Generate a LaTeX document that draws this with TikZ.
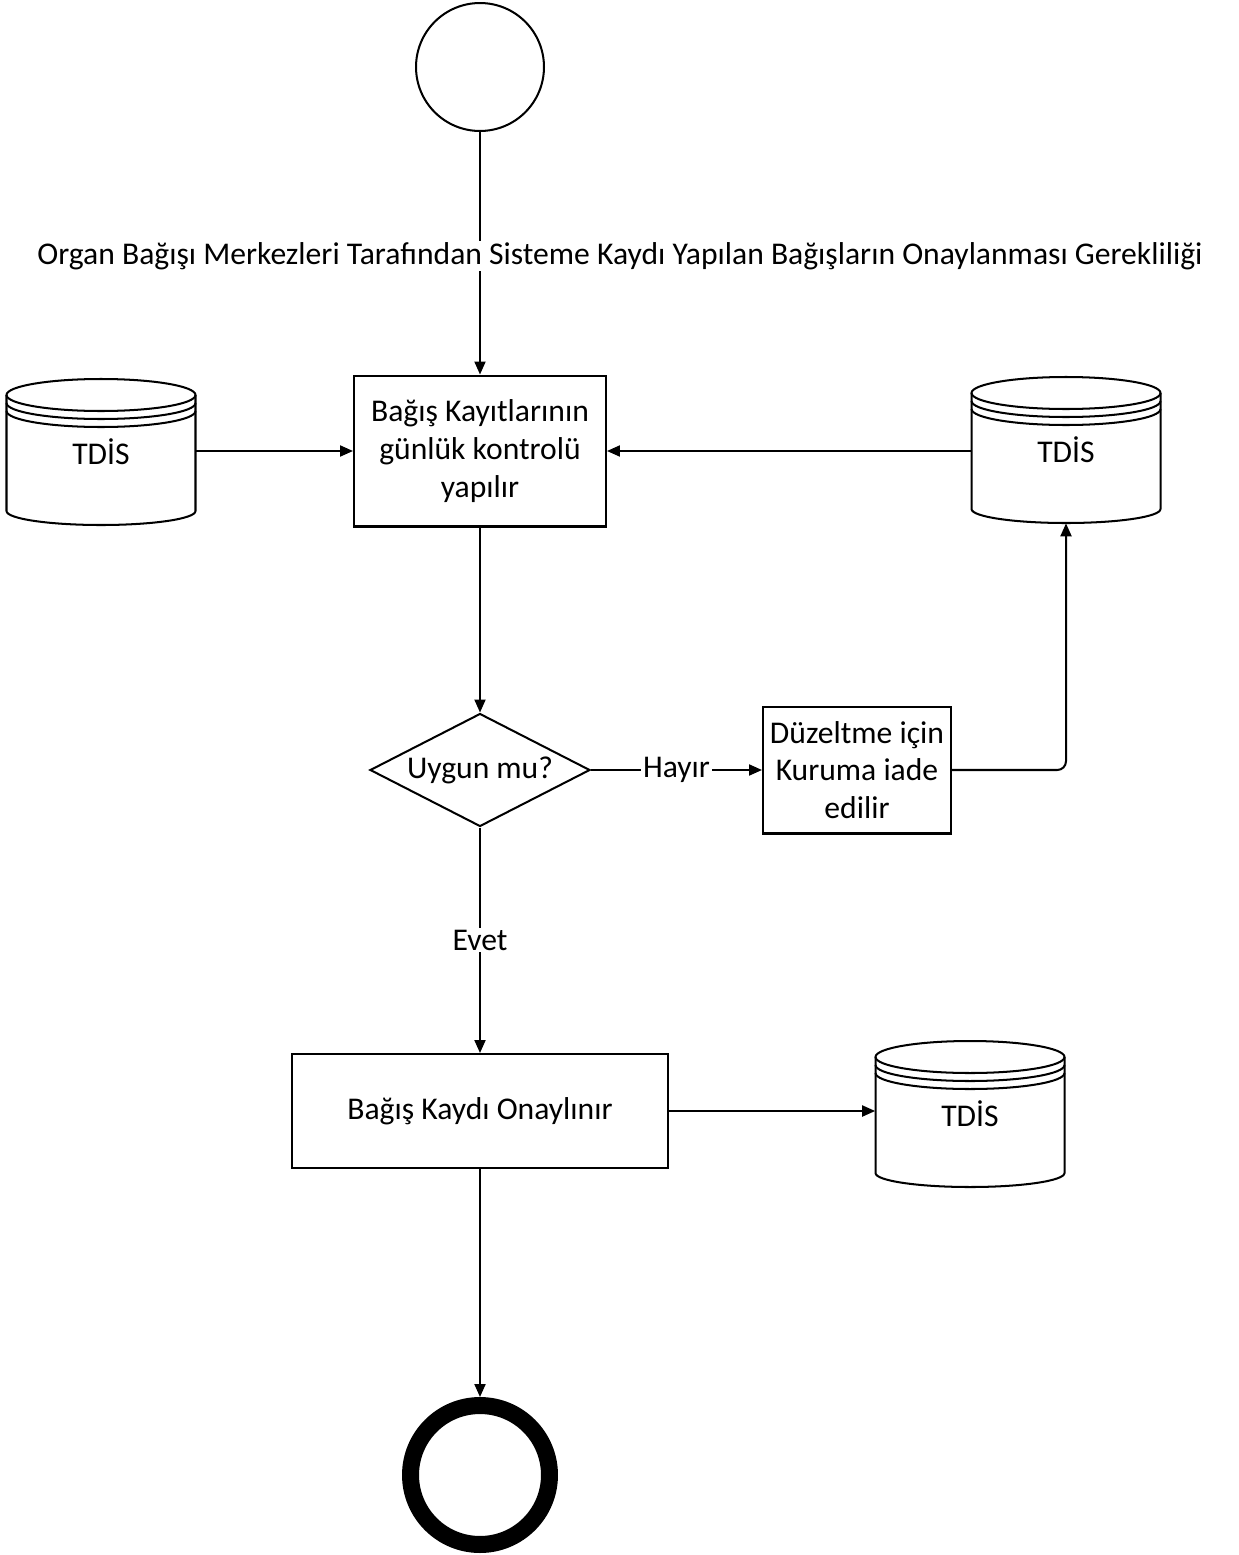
\documentclass[tikz,border=0pt]{standalone}
\usepackage{fontspec}
\setmainfont{Carlito}
\usetikzlibrary{positioning,arrows.meta,shapes.geometric,calc}
\newcommand\diafont{\fontsize{18}{21.5}\selectfont}
\tikzset{
  line/.style={draw=black, line width=1.15pt},
  flow/.style={line, -{Triangle[length=0.26cm,width=0.22cm]}},
  task/.style={rectangle, line, align=center, font=\diafont, inner sep=2pt},
  decision/.style={diamond, line, aspect=1.95, inner sep=0pt, font=\diafont,
                   minimum width=4.4cm, minimum height=2.26cm},
  dbnode/.style={rectangle, minimum width=3.78cm, minimum height=2.92cm, font=\diafont},
  edgelabel/.style={fill=white, inner sep=1pt, font=\diafont},
  startev/.style={circle, line, minimum size=2.56cm, inner sep=0pt},
  endev/.style={circle, draw=black, line width=0.34cm, minimum size=2.78cm, inner sep=0pt}
}
% cylinder with stacked rims: name, x, y
\newcommand\tdisdb[3]{%
  \node[dbnode, text depth=-6pt] (#1) at (#2,#3) {TDİS};
  \draw[line] (#2,{#3+57}) ellipse[x radius=94.5, y radius=16];
  \draw[line] ({#2-94.5},{#3+57}) -- ({#2-94.5},{#3-59})
    arc[start angle=180, end angle=360, x radius=94.5, y radius=14] -- ({#2+94.5},{#3+57});
  \draw[line] ({#2-94.5},{#3+49}) arc[start angle=180, end angle=360, x radius=94.5, y radius=16];
  \draw[line] ({#2-94.5},{#3+41}) arc[start angle=180, end angle=360, x radius=94.5, y radius=16];
}
\begin{document}
\begin{tikzpicture}[x=0.02cm,y=0.02cm]
\useasboundingbox (0,0) rectangle (1239,-1555);
% events
\node[startev] (start) at (480,-67) {};
\node[endev] (end) at (480,-1475) {};
% tasks
\node[task, minimum width=5.04cm, minimum height=3.02cm] (check) at (480,-451)
  {Bağış Kayıtlarının\\günlük kontrolü\\yapılır};
\node[decision] (ok) at (480,-770) {Uygun mu?};
\node[task, minimum width=3.76cm, minimum height=2.54cm] (fix) at (857,-770)
  {Düzeltme için\\Kuruma iade\\edilir};
\node[task, minimum width=7.54cm, minimum height=2.28cm] (approve) at (480,-1111)
  {Bağış Kaydı Onaylınır};
% data stores
\tdisdb{dbleft}{101}{-452}
\tdisdb{dbright}{1066}{-450}
\tdisdb{dbout}{970}{-1114}
% flows
\draw[flow] (start) -- (check);
\node[edgelabel] (need) at (620,-256)
  {Organ Bağışı Merkezleri Tarafından Sisteme Kaydı Yapılan Bağışların Onaylanması Gerekliliği};
\draw[flow] (dbleft.east |- check.west) -- (check.west);
\draw[flow] (dbright.west |- check.east) -- (check.east);
\draw[flow] (check) -- (ok);
\draw[flow] (ok) -- node[edgelabel] {Hayır} (fix);
\draw[flow, rounded corners=5] (fix.east) -| (dbright.south);
\draw[flow] (ok) -- node[edgelabel] {Evet} (approve);
\draw[flow] (approve) -- (dbout.west |- approve.east);
\draw[flow] (approve) -- (end);
\end{tikzpicture}
\end{document}
